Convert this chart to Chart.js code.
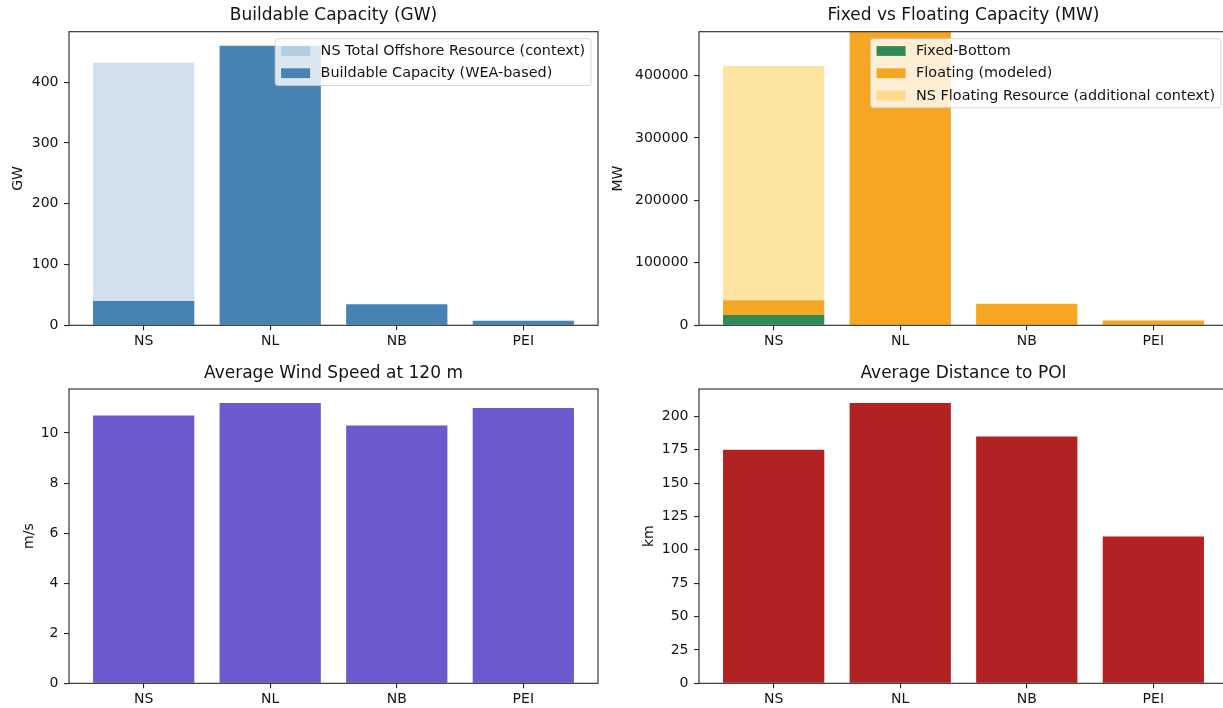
<!DOCTYPE html>
<html>
<head>
<meta charset="utf-8">
<title>Offshore Wind Capacity Overview</title>
<script src="https://cdn.jsdelivr.net/npm/chart.js@4.4.1/dist/chart.umd.min.js"></script>
<style>
  html, body { margin: 0; padding: 0; background: #ffffff; }
  body { position: relative; width: 1223px; height: 708px; overflow: hidden; }
  canvas { position: absolute; display: block; }
</style>
</head>
<body>
<canvas id="capacityGW" width="600" height="354" style="left:0px;top:0px"></canvas>
<canvas id="capacityMW" width="640" height="354" style="left:600px;top:0px"></canvas>
<canvas id="windSpeed" width="600" height="354" style="left:0px;top:354px"></canvas>
<canvas id="distance" width="640" height="354" style="left:600px;top:354px"></canvas>
<script>
// ---- Data ----
const categories = ['NS', 'NL', 'NB', 'PEI'];
const categoryPositions = [0, 1, 2, 3];

// Buildable capacity (GW)
const nsTotalResourceGW = [432, null, null, null];
const buildableGW = [40, 460, 34.5, 7.5];
const capacityTicksGW = [0, 100, 200, 300, 400];
const capacityMaxGW = 483;

// Fixed vs floating capacity (MW)
const fixedBottomMW = [16500, 0, 0, 0];
const floatingMW = [23500, 500000, 34600, 7500];
const nsFloatingResourceMW = [375000, 0, 0, 0];
const capacityTicksMW = [0, 100000, 200000, 300000, 400000];
const capacityMaxMW = 470000;

// Average wind speed at 120 m (m/s)
const windSpeedMS = [10.7, 11.2, 10.3, 11.0];
const windTicks = [0, 2, 4, 6, 8, 10];
const windMax = 11.76;

// Average distance to POI (km)
const distanceKm = [175, 210, 185, 110];
const distanceTicks = [0, 25, 50, 75, 100, 125, 150, 175, 200];
const distanceMax = 220.5;

// ---- Styling ----
const FONT = '"DejaVu Sans", Verdana, sans-serif';
const INK = '#141414';
const SPINE = '#262626';

const toPoints = (values) => categoryPositions.map((x, i) => ({ x, y: values[i] }));

// Axes frame (all four spines) plus an in-plot legend box, upper right.
const frameLegend = {
  id: 'frameLegend',
  afterDatasetsDraw(chart, args, opts) {
    const { ctx, chartArea: a } = chart;
    ctx.save();
    ctx.strokeStyle = SPINE;
    ctx.lineWidth = 1.1;
    ctx.strokeRect(a.left, a.top, a.right - a.left, a.bottom - a.top);

    if (opts && opts.show) {
      const items = chart.data.datasets.map(d => ({ text: d.label, color: d.backgroundColor }));
      ctx.font = '14.4px ' + FONT;
      const textW = Math.max(...items.map(it => ctx.measureText(it.text).width));
      const pad = 6, handle = 29, gap = 10.5, step = 22.2, edge = 12.3;
      const w = pad + handle + gap + textW + pad;
      const h = edge * 2 + step * (items.length - 1);
      const x = a.right - 7 - w;
      const y = a.top + 7;
      ctx.beginPath();
      ctx.roundRect(x, y, w, h, 3);
      ctx.fillStyle = 'rgba(255,255,255,0.8)';
      ctx.fill();
      ctx.strokeStyle = 'rgba(204,204,204,0.8)';
      ctx.lineWidth = 1;
      ctx.stroke();
      items.forEach((it, i) => {
        const cy = y + edge + i * step;
        ctx.fillStyle = it.color;
        ctx.fillRect(x + pad, cy - 4.9, handle, 9.8);
        ctx.fillStyle = INK;
        ctx.textAlign = 'left';
        ctx.textBaseline = 'middle';
        ctx.fillText(it.text, x + pad + handle + gap, cy + 0.5);
      });
    }
    ctx.restore();
  }
};

function makePanel(id, cfg) {
  const tickFont = { family: FONT, size: 14 };
  const gridStyle = {
    display: true,
    drawOnChartArea: false,
    drawTicks: true,
    offset: false,
    tickLength: 5,
    color: SPINE,
    lineWidth: 1.1
  };
  return new Chart(document.getElementById(id), {
    type: 'bar',
    data: { datasets: cfg.datasets },
    options: {
      responsive: false,
      animation: false,
      events: [],
      layout: { padding: { left: 0, right: cfg.padRight, top: 0, bottom: 0 } },
      plugins: {
        legend: { display: false },
        tooltip: { enabled: false },
        title: {
          display: true,
          text: cfg.title,
          fullSize: false,
          color: INK,
          font: { family: FONT, size: 17, weight: 'normal' },
          padding: cfg.titlePad
        },
        frameLegend: { show: !!cfg.showLegend }
      },
      scales: {
        x: {
          type: 'linear',
          min: -0.59,
          max: 3.59,
          offset: false,
          stacked: true,
          afterBuildTicks: (axis) => { axis.ticks = categoryPositions.map(v => ({ value: v })); },
          afterFit: (axis) => { axis.height = cfg.xHeight; },
          ticks: {
            callback: (v) => categories[v],
            autoSkip: false,
            maxRotation: 0,
            font: tickFont,
            color: INK,
            padding: 3
          },
          grid: gridStyle,
          border: { display: false }
        },
        y: {
          type: 'linear',
          min: 0,
          max: cfg.yMax,
          stacked: cfg.stackY,
          afterBuildTicks: (axis) => { axis.ticks = cfg.yTicks.map(v => ({ value: v })); },
          afterFit: (axis) => { axis.width = cfg.yWidth; },
          ticks: {
            callback: (v) => String(v),
            font: tickFont,
            color: INK,
            padding: 5.5
          },
          title: {
            display: true,
            text: cfg.yLabel,
            color: INK,
            font: { family: FONT, size: 14 },
            padding: { top: cfg.yTitleOffset, bottom: 0 }
          },
          grid: gridStyle,
          border: { display: false }
        }
      },
      datasets: {
        bar: { categoryPercentage: 1.0, barPercentage: 0.8, borderWidth: 0 }
      }
    },
    plugins: [frameLegend]
  });
}

// Buildable Capacity (GW)
makePanel('capacityGW', {
  title: 'Buildable Capacity (GW)',
  yLabel: 'GW',
  yTicks: capacityTicksGW,
  yMax: capacityMaxGW,
  stackY: false,
  showLegend: true,
  yWidth: 69, padRight: 2, xHeight: 28.7,
  titlePad: { top: 5.8, bottom: 5.5 },
  yTitleOffset: 9.6,
  datasets: [
    { label: 'NS Total Offshore Resource (context)', data: toPoints(nsTotalResourceGW),
      backgroundColor: 'rgba(70,130,180,0.25)', grouped: false, order: 1 },
    { label: 'Buildable Capacity (WEA-based)', data: toPoints(buildableGW),
      backgroundColor: 'rgb(70,130,180)', grouped: false, order: 0 }
  ]
});

// Fixed vs Floating Capacity (MW)
makePanel('capacityMW', {
  title: 'Fixed vs Floating Capacity (MW)',
  yLabel: 'MW',
  yTicks: capacityTicksMW,
  yMax: capacityMaxMW,
  stackY: true,
  showLegend: true,
  yWidth: 99, padRight: 12, xHeight: 28.7,
  titlePad: { top: 5.8, bottom: 5.5 },
  yTitleOffset: 9.6,
  datasets: [
    { label: 'Fixed-Bottom', data: toPoints(fixedBottomMW), backgroundColor: 'rgb(46,139,87)' },
    { label: 'Floating (modeled)', data: toPoints(floatingMW), backgroundColor: 'rgb(245,166,35)' },
    { label: 'NS Floating Resource (additional context)', data: toPoints(nsFloatingResourceMW),
      backgroundColor: 'rgba(253,198,58,0.48)' }
  ]
});

// Average Wind Speed at 120 m
makePanel('windSpeed', {
  title: 'Average Wind Speed at 120 m',
  yLabel: 'm/s',
  yTicks: windTicks,
  yMax: windMax,
  stackY: false,
  yWidth: 69, padRight: 2, xHeight: 24.7,
  titlePad: { top: 9.5, bottom: 5.1 },
  yTitleOffset: 20.6,
  datasets: [
    { label: 'Average Wind Speed', data: toPoints(windSpeedMS), backgroundColor: 'rgb(106,90,205)' }
  ]
});

// Average Distance to POI
makePanel('distance', {
  title: 'Average Distance to POI',
  yLabel: 'km',
  yTicks: distanceTicks,
  yMax: distanceMax,
  stackY: false,
  yWidth: 99, padRight: 12, xHeight: 24.7,
  titlePad: { top: 9.5, bottom: 5.1 },
  yTitleOffset: 40.6,
  datasets: [
    { label: 'Average Distance', data: toPoints(distanceKm), backgroundColor: 'rgb(178,34,34)' }
  ]
});
</script>
</body>
</html>
